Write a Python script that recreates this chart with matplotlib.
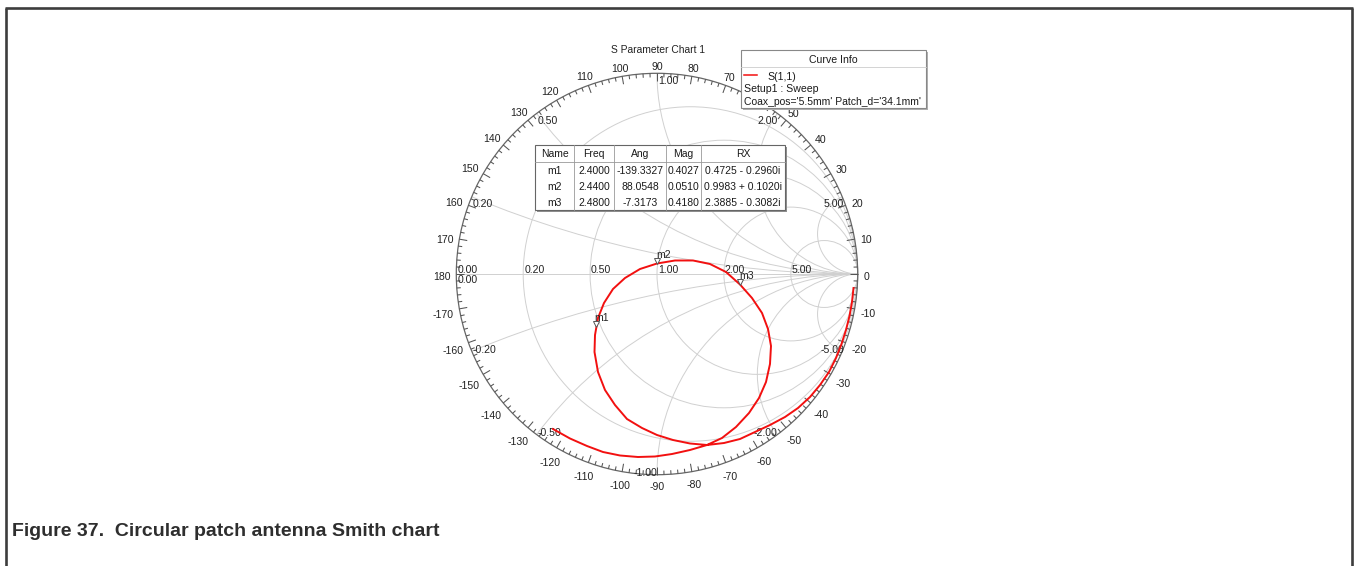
import numpy as np
import matplotlib.pyplot as plt
from matplotlib.patches import Circle, Rectangle
from matplotlib.collections import LineCollection

plt.rcParams['font.family'] = ['Liberation Sans', 'DejaVu Sans']

# S(1,1) sweep, reflection coefficient (real, imaginary)
s11_re = [0.9791, 0.9716, 0.9591, 0.9417, 0.9193, 0.8919, 0.8570, 0.8122,
          0.7623, 0.7025, 0.6378, 0.5630, 0.4883, 0.4136, 0.3338, 0.2491,
          0.1644, 0.0797, 0.0000, -0.0747, -0.1495, -0.2093, -0.2591, -0.2940,
          -0.3114, -0.3089, -0.2940, -0.2641, -0.2192, -0.1594, -0.0847, 0.0000,
          0.0897, 0.1794, 0.2641, 0.3438, 0.4136, 0.4733, 0.5232, 0.5531,
          0.5680, 0.5630, 0.5431, 0.5082, 0.4584, 0.3936, 0.3239, 0.2491,
          0.1644, 0.0747, -0.0100, -0.0947, -0.1844, -0.2691, -0.3488, -0.4335,
          -0.5182]
s11_im = [-0.0698, -0.1395, -0.2093, -0.2790, -0.3488, -0.4185, -0.4883, -0.5531,
          -0.6129, -0.6677, -0.7125, -0.7524, -0.7872, -0.8221, -0.8421, -0.8520,
          -0.8445, -0.8271, -0.8022, -0.7673, -0.7225, -0.6527, -0.5780, -0.4883,
          -0.3886, -0.3039, -0.2192, -0.1445, -0.0747, -0.0199, 0.0249, 0.0523,
          0.0673, 0.0673, 0.0498, 0.0100, -0.0523, -0.1196, -0.1943, -0.2740,
          -0.3587, -0.4484, -0.5381, -0.6178, -0.6926, -0.7623, -0.8171, -0.8520,
          -0.8769, -0.8969, -0.9093, -0.9118, -0.9043, -0.8869, -0.8570, -0.8196,
          -0.7723]

# marker table
marker_names = ['m1', 'm2', 'm3']
marker_freq = ['2.4000', '2.4400', '2.4800']
marker_ang = [-139.3327, 88.0548, -7.3173]
marker_mag = [0.4027, 0.0510, 0.4180]
marker_rx = ['0.4725 - 0.2960i', '0.9983 + 0.1020i', '2.3885 - 0.3082i']
table_cols = ['Name', 'Freq', 'Ang', 'Mag', 'RX']

# smith grid values
grid_r = [0.2, 0.5, 1.0, 2.0, 5.0]
grid_x = [0.2, 0.5, 1.0, 2.0, 5.0]
r_labels = ['0.00', '0.20', '0.50', '1.00', '2.00', '5.00']
angle_labels = list(range(-170, 181, 10))

curve_info = ['S(1,1)', 'Setup1 : Sweep', "Coax_pos='5.5mm' Patch_d='34.1mm'"]

W, H = 1354, 566
CX, CY, RPX = 657.0, 274.0, 200.7
GRID = '#d0d0d0'
TXT = '#222222'
FS = 7.6


def P(x, y):
    """pixel position -> gamma plane"""
    return (x - CX) / RPX, (CY - y) / RPX


def L(n):
    return n / RPX


fig = plt.figure(figsize=(W / 100, H / 100), dpi=100, facecolor='white')
ax = fig.add_axes([0, 0, 1, 1])
ax.set_xlim(-CX / RPX, (W - CX) / RPX)
ax.set_ylim((CY - H) / RPX, CY / RPX)
ax.axis('off')

# ---- grid ----
for r in grid_r:
    ax.add_patch(Circle((r / (1 + r), 0), 1 / (1 + r), fill=False, ec=GRID, lw=0.7, zorder=1))
for x in grid_x:
    for s in (1, -1):
        arc = Circle((1, s / x), 1 / x, fill=False, ec=GRID, lw=0.7, zorder=1)
        ax.add_patch(arc)
        arc.set_clip_path(Circle((0, 0), 1, transform=ax.transData))
ax.plot([-1, 1], [0, 0], color=GRID, lw=0.7, zorder=1)
ax.add_patch(Circle((0, 0), 1, fill=False, ec='#666666', lw=0.9, zorder=2))

# angle ticks, pointing inwards
segs = []
for d in range(0, 360, 2):
    t = np.deg2rad(d)
    ln = L(8) if d % 10 == 0 else L(4)
    segs.append([(np.cos(t), np.sin(t)), ((1 - ln) * np.cos(t), (1 - ln) * np.sin(t))])
ax.add_collection(LineCollection(segs, colors='#555555', linewidths=0.75, zorder=2))

# angle labels: offset so the text box clears the rim by a few pixels
for a in angle_labels:
    t = np.deg2rad(a)
    w = 5.8 * len(str(a).replace('-', '')) + (3.5 if a < 0 else 0)
    ext = abs(np.cos(t)) * w / 2 + abs(np.sin(t)) * 3.8 + 5.5
    rr = 1 + L(ext)
    ax.text(rr * np.cos(t), rr * np.sin(t) - L(3), str(a), ha='center', va='center',
            fontsize=FS, color=TXT)

# resistance labels along the real axis
for v, lab in zip([0.0] + grid_r, r_labels):
    left = (v - 1) / (v + 1)
    ax.text(left + L(1), L(1), lab, ha='left', va='baseline', fontsize=FS, color=TXT)
ax.text(-1 + L(1), -L(6), '0.00', ha='left', va='center', fontsize=FS, color=TXT)

# reactance labels at the rim
for x in grid_x:
    for s in (1, -1):
        gx = (x * x - 1) / (x * x + 1)
        gy = s * 2 * x / (x * x + 1)
        lab = ('%.2f' % x) if s > 0 else ('-%.2f' % x)
        ha = 'left' if (gx < -0.01 or (x == 1.0 and s > 0)) else 'right'
        dx = L(1) if ha == 'left' else (L(2) if x == 5.0 else 0.0)
        dy = -L(7.5) if s > 0 else L(1.5)
        ax.text(gx + dx, gy + dy, lab, ha=ha, va='center', fontsize=FS, color=TXT)

# ---- S(1,1) trace ----
ax.plot(s11_re, s11_im, color='#f21010', lw=1.4, zorder=3, solid_joinstyle='round')

for name, ang, mag in zip(marker_names, marker_ang, marker_mag):
    mx = mag * np.cos(np.deg2rad(ang))
    my = mag * np.sin(np.deg2rad(ang))
    ax.plot(mx, my + L(3), marker='v', ms=4.5, mfc='white', mec='#555555', mew=0.7, zorder=4)
    ax.text(mx - L(1), my + L(5.5), name, ha='left', va='baseline', fontsize=FS, color=TXT, zorder=4)

# ---- title ----
ax.text(*P(658, 50), 'S Parameter Chart 1', ha='center', va='center', fontsize=7.4, color=TXT)

# ---- marker table ----
col_x = [535, 574, 614, 666, 701, 785]
row_y = [145, 162, 178, 194, 210]
x0, y0 = P(col_x[0], row_y[-1])
x1, y1 = P(col_x[-1], row_y[0])
ax.add_patch(Rectangle((x0 + L(2), y0 - L(2)), x1 - x0, y1 - y0, fc='#909090', ec='none', zorder=5))
ax.add_patch(Rectangle((x0, y0), x1 - x0, y1 - y0, fc='white', ec='#666666', lw=0.8, zorder=6))
for cx in col_x[1:-1]:
    ax.plot(*zip(P(cx, row_y[0]), P(cx, row_y[-1])), color='#999999', lw=0.6, zorder=7)
ax.plot(*zip(P(col_x[0], row_y[1]), P(col_x[-1], row_y[1])), color='#999999', lw=0.6, zorder=7)
rows = [table_cols] + [[n, f, '%.4f' % a, '%.4f' % m, rx] for n, f, a, m, rx in
                       zip(marker_names, marker_freq, marker_ang, marker_mag, marker_rx)]
for i, row in enumerate(rows):
    yc = (row_y[i] + row_y[i + 1]) / 2 + 0.5
    for j, cell in enumerate(row):
        xc = (col_x[j] + col_x[j + 1]) / 2
        ax.text(*P(xc, yc), cell, ha='center', va='center', fontsize=7.5, color='#1a1a1a', zorder=8)

# ---- curve info box ----
bx0, by0 = P(741, 108)
bx1, by1 = P(926, 50)
ax.add_patch(Rectangle((bx0 + L(2), by0 - L(2)), bx1 - bx0, by1 - by0, fc='#b0b0b0', ec='none', zorder=5))
ax.add_patch(Rectangle((bx0, by0), bx1 - bx0, by1 - by0, fc='white', ec='#888888', lw=0.8, zorder=6))
ax.plot(*zip(P(741, 66.5), P(926, 66.5)), color='#cccccc', lw=0.6, zorder=7)
ax.text(*P(833.5, 60), 'Curve Info', ha='center', va='center', fontsize=7.6, color='#1a1a1a', zorder=8)
ax.plot(*zip(P(744, 74.5), P(757, 74.5)), color='#f21010', lw=1.1, zorder=8)
ax.text(*P(767, 77.5), curve_info[0], ha='left', va='center', fontsize=7.6, color='#1a1a1a', zorder=8)
ax.text(*P(744, 89.5), curve_info[1], ha='left', va='center', fontsize=7.6, color='#1a1a1a', zorder=8)
ax.text(*P(744, 102), curve_info[2], ha='left', va='center', fontsize=7.5, color='#1a1a1a', zorder=8)

# ---- figure frame and caption ----
frame = '#3d3d3d'
ax.plot(*zip(P(6.3, 566), P(6.3, 7.8)), color=frame, lw=1.9, clip_on=False, solid_capstyle='butt')
ax.plot(*zip(P(5.3, 8), P(1353, 8)), color=frame, lw=1.9, clip_on=False, solid_capstyle='butt')
ax.plot(*zip(P(1352.3, 7.8), P(1352.3, 566)), color=frame, lw=1.9, clip_on=False, solid_capstyle='butt')
ax.text(*P(12.5, 536), 'Figure 37.  Circular patch antenna Smith chart', ha='left', va='baseline',
        fontsize=14, fontweight='bold', color='#2e2e2e')

fig.savefig('out.png', dpi=100, facecolor='white')
